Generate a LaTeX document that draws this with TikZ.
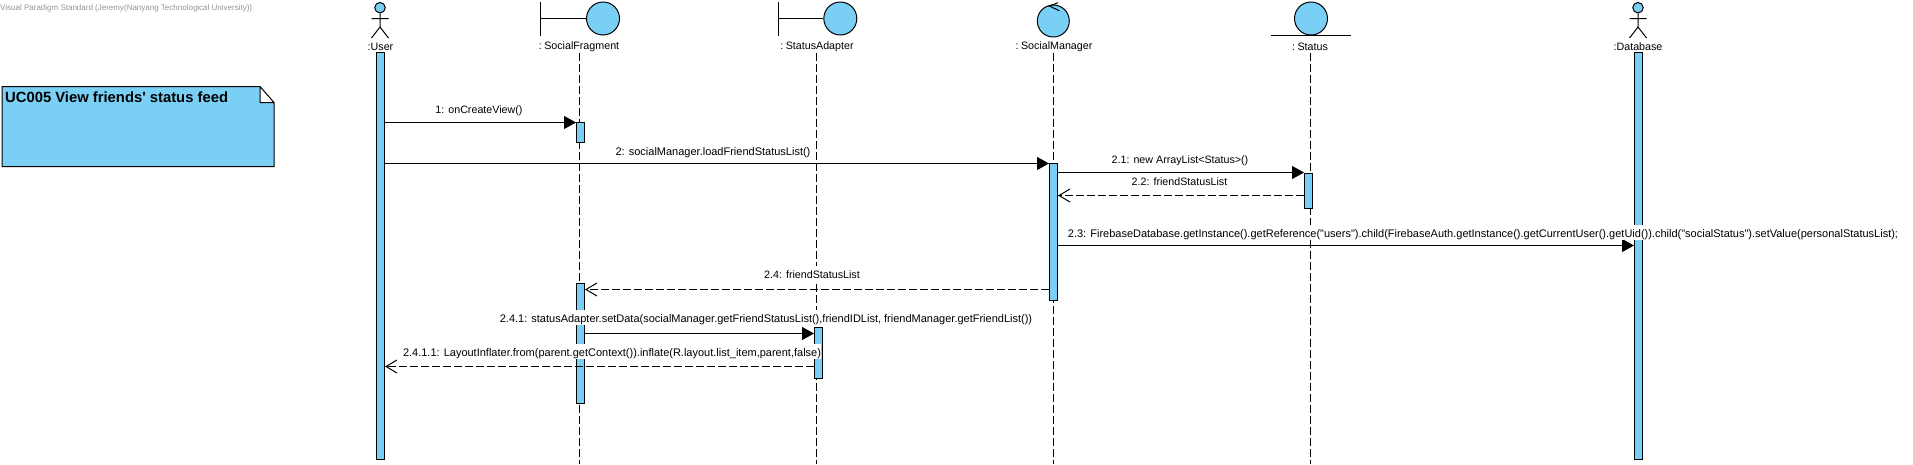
\documentclass[tikz,border=0pt]{standalone}
\usepackage{fontspec}
\usetikzlibrary{arrows.meta}
\newfontfamily\vpfont{Liberation Sans}
\definecolor{vpblue}{HTML}{7ACFF5}
\tikzset{
  every node/.style={font=\vpfont\fontsize{10.7}{12}\selectfont},
  figure/.style={draw=black,line width=1pt,fill=vpblue},
  bar/.style={figure,rectangle,inner sep=0pt,minimum width=8pt},
  head/.style={figure,circle,inner sep=0pt,minimum size=#1},
  objname/.style={inner sep=0pt,minimum height=12pt},
  msgname/.style={fill=white,inner sep=0pt,text height=12pt,text depth=3pt},
  longname/.style={msgname,font=\vpfont\fontsize{11}{12}\selectfont},
  life/.style={line width=1pt,dash pattern=on 8pt off 3pt},
  call/.style={line width=1pt,-{Triangle[length=12pt,width=13pt]}},
  reply/.style={line width=1pt,dash pattern=on 8pt off 3pt,-{Straight Barb[length=11pt,width=13pt,line width=1pt]}}
}
\begin{document}
\begin{tikzpicture}[>=latex,x=1pt,y=-1pt]
  \useasboundingbox (0,0) rectangle (1913,464);
  \path (0,8) node [anchor=west,inner sep=0pt,text=black!42,font=\vpfont\fontsize{8}{9}\selectfont](mark){Visual Paradigm Standard (Jeremy(Nanyang Technological University))};
  % note
  \draw[figure] (2,86.5) -- (260,86.5) -- (274,102.5) -- (274,166.5) -- (2,166.5) -- cycle (260,86.5) -- (260,102.5) -- (274,102.5);
  \path (5,97) node [anchor=west,inner sep=0pt,font=\vpfont\bfseries\fontsize{14.8}{16}\selectfont](title){UC005 View friends' status feed};
  % object names
  \path (380.5,46.5) node [objname](user){:User};
  \path (579,46.5) node [objname](frag){: \kern-1.5pt SocialFragment};
  \path (817,46.5) node [objname](adapter){: \kern-1.5pt StatusAdapter};
  \path (1054,46.5) node [objname](manager){: \kern-1.5pt SocialManager};
  \path (1310,46.5) node [objname](status){: \kern-1.5pt Status};
  \path (1638,46.5) node [objname](base){:Database};
  % lifelines
  \coordinate (fragEnd) at (579.5,464);
  \coordinate (adapterEnd) at (816.5,464);
  \coordinate (managerEnd) at (1053.5,464);
  \coordinate (statusEnd) at (1310.5,464);
  \draw[life] (frag.south -| fragEnd) -- (fragEnd);
  \draw[life] (adapter.south -| adapterEnd) -- (adapterEnd);
  \draw[life] (manager.south -| managerEnd) -- (managerEnd);
  \draw[life] (status.south -| statusEnd) -- (statusEnd);
  % actors
  \path (380,7.7) node [head=10.5pt](userHead){};
  \draw[line width=1pt] (userHead) -- (380,27) -- (371.5,38) (380,27) -- (388.5,38) (371.5,18.5) -- (388.5,18.5);
  \path (1638,7.7) node [head=10.5pt](baseHead){};
  \draw[line width=1pt] (baseHead) -- (1638,27) -- (1629.5,38) (1638,27) -- (1646.5,38) (1629.5,18.5) -- (1646.5,18.5);
  % boundaries
  \path (603,18.5) node [head=33pt](fragHead){};
  \coordinate (fragStem) at (540.5,18.5);
  \draw[line width=1pt] (540.5,2) -- (540.5,36) (fragStem) -- (fragHead);
  \path (840.3,18.5) node [head=33pt](adapterHead){};
  \coordinate (adapterStem) at (778.5,18.5);
  \draw[line width=1pt] (778.5,2) -- (778.5,36) (adapterStem) -- (adapterHead);
  % control
  \path (1053.3,21) node [head=32pt](managerHead){};
  \draw[line width=1pt] (1058,2.7) -- (1049.3,6) -- (1059.3,10.7);
  % entity
  \path (1311,18.5) node [head=33pt](statusHead){};
  \draw[line width=1pt] (1271,35.5) -- (1351,35.5);
  % activations
  \path (380.5,255.5) node [bar,minimum height=407pt](userBar){};
  \path (1638.5,255.5) node [bar,minimum height=407pt](baseBar){};
  \path (580.5,132.5) node [bar,minimum height=20pt](fragBarA){};
  \path (580.5,343.5) node [bar,minimum height=120pt](fragBarB){};
  \path (1053.5,232) node [bar,minimum height=137pt](managerBar){};
  \path (1308.5,191) node [bar,minimum height=35pt](statusBar){};
  \path (818.5,352.5) node [bar,minimum height=51pt](adapterBar){};
  % messages
  \coordinate (m1) at (0,122.5);
  \coordinate (m2) at (0,163.5);
  \coordinate (m21) at (0,172.5);
  \coordinate (m22) at (0,195.5);
  \coordinate (m23) at (0,245.5);
  \coordinate (m24) at (0,289.5);
  \coordinate (m241) at (0,333.5);
  \coordinate (m2411) at (0,366.5);
  \draw[call] (userBar.east |- m1) -- (fragBarA.west |- m1);
  \draw[call] (userBar.east |- m2) -- (managerBar.west |- m2);
  \draw[call] (managerBar.east |- m21) -- (statusBar.west |- m21);
  \draw[reply] (statusBar.west |- m22) -- (managerBar.east |- m22);
  \draw[call] (managerBar.east |- m23) -- (baseBar.west |- m23);
  \draw[reply] (managerBar.west |- m24) -- (fragBarB.east |- m24);
  \draw[call] (fragBarB.east |- m241) -- (adapterBar.west |- m241);
  \draw[reply] (adapterBar.west |- m2411) -- (userBar.east |- m2411);
  % message names
  \path (479,108.5) node [msgname](n1){1: onCreateView()};
  \path (713,150.5) node [longname](n2){2: socialManager.loadFriendStatusList()};
  \path (1180,158.5) node [msgname](n21){2.1: new ArrayList<Status>()};
  \path (1179.5,180.5) node [msgname](n22){2.2: friendStatusList};
  \path (1483,232.5) node [longname](n23){2.3: FirebaseDatabase.getInstance().getReference("users").child(FirebaseAuth.getInstance().getCurrentUser().getUid()).child("socialStatus").setValue(personalStatusList);};
  \path (812,273.5) node [msgname](n24){2.4: friendStatusList};
  \path (766,317.5) node [longname](n241){2.4.1: statusAdapter.setData(socialManager.getFriendStatusList(),friendIDList, friendManager.getFriendList())};
  \path (612,351.5) node [longname](n2411){2.4.1.1: LayoutInflater.from(parent.getContext()).inflate(R.layout.list\_item,parent,false)};
\end{tikzpicture}
\end{document}
